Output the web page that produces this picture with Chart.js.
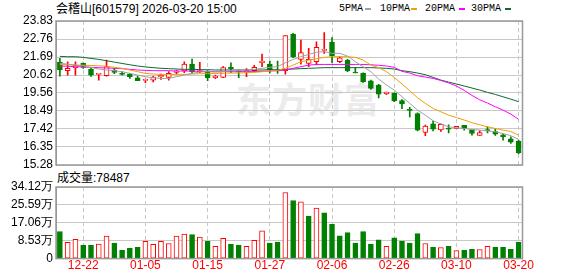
<!DOCTYPE html>
<html>
<head>
<meta charset="utf-8">
<script src="https://cdn.jsdelivr.net/npm/chart.js@4.4.1/dist/chart.umd.min.js"></script>
<style>
body{margin:0;background:#fff;width:578px;height:276px;overflow:hidden;position:relative;font-family:"Liberation Sans","Noto Sans CJK SC",sans-serif}
canvas{position:absolute;left:0;z-index:1}
#c1{top:0}
#c2{top:170px}
.t{position:absolute;white-space:nowrap;font-size:12px;line-height:14px;color:#000}
.lg{position:absolute;top:2px;font-family:"Liberation Mono",monospace;font-size:10px;line-height:14px;color:#000;white-space:nowrap}
.dash{position:absolute;top:8px;width:6px;height:2px}
#wm{position:absolute;left:236px;top:72px;font-family:"Noto Sans CJK SC";font-weight:bold;font-size:35px;letter-spacing:1px;color:#ebebeb;z-index:0}
</style>
</head>
<body>
<div class="t" style="left:56px;top:2px">会稽山[601579] 2026-03-20 15:00</div>
<div class="lg" style="left:339px">5PMA</div><div class="dash" style="left:365px;background:#a0a0a0"></div>
<div class="lg" style="left:380px">10PMA</div><div class="dash" style="left:411px;background:#f0a000"></div>
<div class="lg" style="left:425px">20PMA</div><div class="dash" style="left:459px;background:#ff00ff"></div>
<div class="lg" style="left:471px">30PMA</div><div class="dash" style="left:505px;background:#0b6b2f"></div>
<div class="t" style="left:57px;top:171px">成交量:78487</div>
<div id="wm">东方财富</div>
<canvas id="c1" width="578" height="176"></canvas>
<canvas id="c2" width="578" height="106"></canvas>
<script>
let dates=['12-17','12-18','12-19','12-22','12-23','12-24','12-25','12-26','12-29','12-30','12-31',
'01-05','01-06','01-07','01-08','01-09','01-12','01-13','01-14','01-15','01-16','01-19','01-20','01-21','01-22','01-23',
'01-26','01-27','01-28','01-29','01-30','02-02','02-03','02-04','02-05','02-06','02-09','02-10','02-11','02-12','02-13',
'02-24','02-25','02-26','02-27','03-02','03-03','03-04','03-05','03-06','03-09','03-10','03-11','03-12','03-13',
'03-16','03-17','03-18','03-19','03-20'];
let tickDates=['12-22','01-05','01-15','01-27','02-06','02-26','03-10','03-20'];

let opens=[21.39,20.88,21.04,21.31,20.96,20.66,20.58,20.92,20.72,20.68,20.46,20.30,20.32,20.52,20.48,20.78,20.86,21.27,20.82,20.82,
20.46,20.48,21.08,20.84,20.80,20.88,21.35,21.27,20.92,20.88,23.04,21.55,21.31,21.41,22.09,22.56,21.41,21.51,20.78,20.72,
20.28,20.03,19.51,19.53,19.10,18.58,18.34,17.21,17.73,17.37,17.47,17.45,17.63,17.39,17.03,17.39,17.27,17.07,16.84,16.70];
let highs=[21.61,21.41,21.41,21.35,21.02,20.68,21.51,21.02,20.82,20.72,20.56,20.38,20.54,20.68,20.82,20.92,21.41,21.57,21.37,20.88,
20.62,21.12,21.35,20.92,21.00,21.20,21.87,21.45,21.45,22.96,23.10,22.70,22.21,22.60,23.14,22.84,21.71,21.55,21.06,20.76,
20.32,20.07,19.61,19.57,19.17,18.70,18.38,17.65,17.89,17.73,17.67,17.57,17.63,17.39,17.31,17.55,17.41,17.11,16.95,16.76];
let lows=[20.56,20.62,20.62,21.02,20.54,20.32,20.56,20.70,20.62,20.42,20.28,20.17,20.22,20.36,20.32,20.68,20.76,20.76,20.76,20.28,
20.40,20.46,20.76,20.46,20.52,20.82,21.12,20.74,20.72,20.68,21.65,21.27,21.12,21.22,21.91,21.35,21.35,20.82,20.74,20.18,
19.77,19.27,19.45,19.04,18.62,18.14,17.31,17.02,17.31,17.27,17.19,17.45,17.35,17.05,17.03,17.19,17.03,16.76,16.56,15.96];
let closes=[20.94,21.02,21.20,21.08,20.62,20.68,21.12,20.78,20.66,20.52,20.28,20.34,20.50,20.60,20.72,20.86,21.27,20.82,20.88,20.46,
20.56,21.06,20.98,20.80,20.88,21.08,21.45,20.92,20.86,22.96,21.71,21.95,21.55,22.26,22.13,21.75,21.65,20.86,20.74,20.22,
19.83,19.49,19.61,19.08,18.90,18.52,17.35,17.59,17.41,17.69,17.41,17.57,17.45,17.15,17.21,17.31,17.11,16.95,16.64,16.00];

let ma5=[21.31,21.27,21.21,21.17,21.07,20.98,20.92,20.88,20.82,20.72,20.62,20.52,20.46,20.42,20.42,20.52,20.62,20.72,20.80,20.82,
20.80,20.84,20.88,20.88,20.92,20.96,21.02,21.08,21.12,21.35,21.55,21.71,21.85,21.97,22.01,21.91,21.91,21.75,21.41,21.12,
20.82,20.38,20.03,19.73,19.33,18.94,18.54,18.24,17.91,17.71,17.55,17.49,17.45,17.39,17.35,17.31,17.25,17.15,17.02,16.80];
let ma10=[21.25,21.23,21.21,21.21,21.19,21.17,21.15,21.08,21.02,20.92,20.82,20.72,20.68,20.66,20.66,20.66,20.66,20.68,20.70,20.70,
20.72,20.72,20.74,20.74,20.76,20.78,20.82,20.86,20.90,21.02,21.21,21.41,21.51,21.59,21.67,21.71,21.71,21.71,21.67,21.51,
21.21,21.06,20.82,20.48,20.09,19.69,19.27,18.94,18.64,18.44,18.24,18.10,17.95,17.79,17.67,17.55,17.45,17.35,17.27,17.05];
let ma20=[21.16,21.14,21.12,21.10,21.08,21.06,21.04,21.02,21.00,20.96,20.92,20.90,20.88,20.88,20.88,20.86,20.86,20.86,20.84,20.84,
20.82,20.82,20.82,20.82,20.82,20.82,20.84,20.86,20.88,20.92,21.02,21.12,21.21,21.25,21.25,21.25,21.25,21.25,21.25,21.25,
21.23,21.20,21.16,21.08,20.84,20.74,20.58,20.50,20.42,20.30,20.15,19.97,19.71,19.41,19.15,18.96,18.74,18.54,18.30,17.99];
let ma30=[21.73,21.71,21.71,21.67,21.61,21.55,21.47,21.39,21.31,21.23,21.16,21.10,21.06,21.02,21.00,20.98,20.96,20.96,20.94,20.94,
20.92,20.92,20.92,20.92,20.92,20.92,20.92,20.94,20.94,20.96,20.98,21.00,21.02,21.04,21.06,21.06,21.06,21.06,21.06,21.06,
21.06,21.04,21.02,20.98,20.88,20.82,20.74,20.64,20.48,20.32,20.20,20.09,19.97,19.85,19.73,19.59,19.47,19.33,19.19,19.04];

// 成交量, 单位: 万
let volumes=[12.9,7.7,9.2,6.4,6.4,6.9,10.7,7.4,4.0,4.9,5.4,8.2,6.8,8.2,7.2,10.7,11.7,11.4,10.2,8.2,
5.8,9.7,6.8,6.4,5.8,8.7,13.2,7.4,7.9,31.5,27.7,27.0,20.3,24.1,21.8,16.3,10.9,12.4,7.4,12.9,
6.9,8.9,5.8,9.9,8.4,7.4,11.9,7.2,5.4,5.3,5.9,3.8,4.0,4.4,4.3,5.8,5.4,5.4,4.4,7.85];

let priceTicks=[15.28,16.35,17.42,18.49,19.56,20.62,21.69,22.76,23.83];
let volTicks=[0,8.53,17.06,25.59,34.12];

const RED='#ff0000', GRN='#008000';
let tickIdx=tickDates.map(d=>dates.indexOf(d));
let up=closes.map((c,i)=>c>=opens[i]);
let volUp=closes.map((c,i)=>i==0 ? up[0] : c>=closes[i-1]);

const frame={
  id:'frame',
  afterDraw(chart){
    let a=chart.chartArea, ctx=chart.ctx;
    ctx.save();
    ctx.strokeStyle='#999';
    ctx.lineWidth=1.5;
    ctx.strokeRect(a.left,a.top,a.right-a.left,a.bottom-a.top);
    ctx.restore();
  }
};

function xScale(showTicks){
  return {
    offset:true,
    grid:{offset:false,color:'#c8c8c8',drawTicks:false},
    border:{display:false,dash:[4,3]},
    afterBuildTicks:s=>{s.ticks=tickIdx.map(v=>({value:v}));},
    ticks:{display:showTicks,autoSkip:false,maxRotation:0,padding:0,color:RED,font:{size:12,family:'Liberation Sans'}}
  };
}

function line(d,col){
  return {type:'line',data:d,borderColor:col,borderWidth:1,pointRadius:0,tension:0};
}

new Chart('c1',{
  type:'bar',
  data:{
    labels:dates,
    datasets:[
      line(ma5,'#a0a0a0'),
      line(ma10,'#f0a000'),
      line(ma20,'#ff00ff'),
      line(ma30,'#0b6b2f'),
      {
        data:opens.map((o,i)=>[o,closes[i]]),
        backgroundColor:up.map(u=>u?'#fff':GRN),
        borderColor:up.map(u=>u?RED:GRN),
        borderWidth:1,borderSkipped:false,barThickness:5,minBarLength:1,grouped:false
      },
      {
        data:lows.map((l,i)=>[l,highs[i]]),
        backgroundColor:up.map(u=>u?RED:GRN),
        barThickness:1,grouped:false
      }
    ]
  },
  options:{
    responsive:false,animation:false,events:[],
    plugins:{legend:{display:false},tooltip:{enabled:false}},
    layout:{padding:{top:21,right:55.5,bottom:11,left:0}},
    scales:{
      x:xScale(false),
      y:{
        min:15.28,max:23.83,
        afterBuildTicks:s=>{s.ticks=priceTicks.map(v=>({value:v}));},
        afterFit:s=>{s.width=56;},
        ticks:{autoSkip:false,callback:v=>v.toFixed(2),color:'#000',padding:3,font:{size:12,family:'Liberation Sans'}},
        grid:{color:'#c8c8c8',drawTicks:false},
        border:{color:'#999'}
      }
    }
  },
  plugins:[frame]
});

new Chart('c2',{
  type:'bar',
  data:{
    labels:dates,
    datasets:[{
      data:volumes,
      backgroundColor:volUp.map(u=>u?'#fff':GRN),
      borderColor:volUp.map(u=>u?RED:GRN),
      borderWidth:1,borderSkipped:false,barThickness:5
    }]
  },
  options:{
    responsive:false,animation:false,events:[],
    plugins:{legend:{display:false},tooltip:{enabled:false}},
    layout:{padding:{top:17,right:55.5,bottom:3,left:0}},
    scales:{
      x:xScale(true),
      y:{
        min:0,max:34.12,
        afterBuildTicks:s=>{s.ticks=volTicks.map(v=>({value:v}));},
        afterFit:s=>{s.width=56;},
        ticks:{autoSkip:false,callback:v=>v==0?'0':v.toFixed(2)+'万',color:'#000',padding:3,font:{size:12,family:'Liberation Sans'}},
        grid:{color:'#c8c8c8',drawTicks:false},
        border:{color:'#999'}
      }
    }
  },
  plugins:[frame]
});
</script>
</body>
</html>
